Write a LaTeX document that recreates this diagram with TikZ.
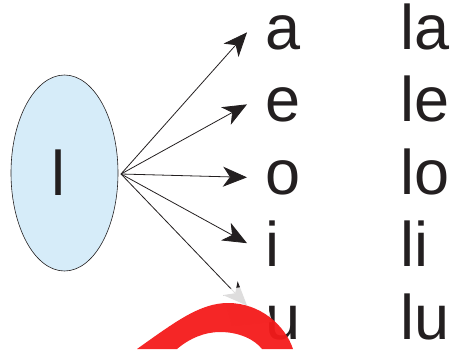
\documentclass[tikz,border=0pt]{standalone}
\usepackage{fontspec}
\setmainfont{Liberation Sans}
\usetikzlibrary{shapes.geometric}
\usetikzlibrary{arrows.meta}
\definecolor{ink}{RGB}{35,31,32}
\definecolor{pale}{RGB}{214,236,249}
\definecolor{redmark}{RGB}{244,26,26}
\tikzset{% 
    letter/.style={inner xsep=18pt,inner ysep=0pt,anchor=base west,text=ink,font=\fontsize{63}{63}\selectfont},
    syl/.style={inner sep=0pt,anchor=base west,text=ink,font=\fontsize{63}{63}\selectfont}
}

\begin{document}
\begin{tikzpicture}[x=1pt,y=-1pt,
            edge/.style={line width=0.8pt,draw=ink,-{Stealth[length=24pt,width=20pt,inset=7pt]}}
            ]
            \useasboundingbox (0,0) rectangle (453,349);
            \node[ellipse,draw=ink,line width=0.6pt,fill=pale,minimum width=107pt,minimum height=196pt] (ell) at (64.5,173){};
            \node[syl] (l0) at (51,195){l};
            \coordinate (src) at (121,174);
            \node[letter] (1v) at (247,49){a};
            \node[letter] (2v) at (247,121){e};
            \node[letter] (3v) at (247,194){o};
            \node[letter] (4v) at (247,266){i};
            \node[letter] (5v) at (247,339){u};
            \node[syl] (1s) at (400,49){la};
            \node[syl] (2s) at (400,121){le};
            \node[syl] (3s) at (400,194){lo};
            \node[syl] (4s) at (400,266){li};
            \node[syl] (5s) at (400,339){lu};
            \draw[edge] (src) -- (1v.west);
            \draw[edge] (src) -- (2v.west);
            \draw[edge] (src) -- (3v.west);
            \draw[edge] (src) -- (4v.west);
            \draw[edge] (src) -- (5v.north west);
            % faded patch and red mark at the bottom
            \fill[white,opacity=0.85] (222,290) -- (262,284) -- (272,322) -- (232,326) -- cycle;
            \fill[redmark,opacity=0.95] (137,349) .. controls (175,322) and (200,303) .. (228,303)
                .. controls (260,303) and (285,325) .. (293,349) -- (262,349)
                .. controls (255,340) and (240,332) .. (220,332)
                .. controls (205,332) and (190,338) .. (177,349) -- cycle;
        \end{tikzpicture}
\end{document}
